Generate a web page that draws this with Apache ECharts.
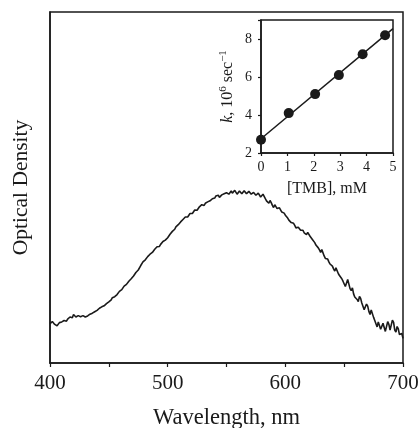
<!DOCTYPE html>
<html>
<head>
<meta charset="utf-8">
<script src="https://cdn.jsdelivr.net/npm/echarts@6/dist/echarts.min.js"></script>
<style>
  html, body { margin: 0; padding: 0; background: #fff; }
  #chart { width: 419px; height: 428px; }
</style>
</head>
<body>
<div id="chart"></div>
<script>
// spectrum, every 1 nm from 400 to 700
const wlStart = 400, wlStep = 1;
const od = [
  0.112, 0.116, 0.118, 0.113, 0.110, 0.108, 0.106, 0.111, 0.115, 0.113,
  0.117, 0.122, 0.121, 0.117, 0.119, 0.125, 0.128, 0.131, 0.133, 0.129,
  0.138, 0.134, 0.131, 0.136, 0.135, 0.130, 0.132, 0.137, 0.135, 0.132,
  0.131, 0.135, 0.134, 0.138, 0.139, 0.137, 0.142, 0.145, 0.146, 0.149,
  0.150, 0.155, 0.156, 0.154, 0.160, 0.164, 0.163, 0.166, 0.169, 0.173,
  0.174, 0.178, 0.180, 0.186, 0.184, 0.189, 0.193, 0.195, 0.199, 0.204,
  0.207, 0.209, 0.212, 0.219, 0.222, 0.224, 0.228, 0.233, 0.236, 0.240,
  0.243, 0.248, 0.252, 0.258, 0.262, 0.265, 0.270, 0.277, 0.282, 0.288,
  0.292, 0.294, 0.298, 0.303, 0.305, 0.310, 0.313, 0.315, 0.318, 0.324,
  0.327, 0.331, 0.333, 0.332, 0.338, 0.343, 0.346, 0.348, 0.350, 0.355,
  0.357, 0.362, 0.367, 0.370, 0.375, 0.377, 0.381, 0.388, 0.392, 0.394,
  0.398, 0.402, 0.404, 0.409, 0.411, 0.416, 0.418, 0.416, 0.421, 0.426,
  0.428, 0.426, 0.431, 0.436, 0.437, 0.435, 0.440, 0.445, 0.447, 0.451,
  0.452, 0.449, 0.455, 0.459, 0.459, 0.457, 0.462, 0.467, 0.468, 0.465,
  0.470, 0.476, 0.474, 0.478, 0.472, 0.477, 0.479, 0.483, 0.482, 0.478,
  0.485, 0.488, 0.481, 0.486, 0.490, 0.484, 0.486, 0.492, 0.489, 0.481,
  0.484, 0.490, 0.489, 0.482, 0.483, 0.491, 0.488, 0.482, 0.480, 0.489,
  0.487, 0.481, 0.479, 0.486, 0.484, 0.478, 0.476, 0.484, 0.480, 0.473,
  0.470, 0.481, 0.478, 0.468, 0.462, 0.459, 0.455, 0.463, 0.457, 0.449,
  0.443, 0.451, 0.448, 0.440, 0.436, 0.442, 0.439, 0.430, 0.425, 0.427,
  0.421, 0.417, 0.413, 0.407, 0.402, 0.400, 0.396, 0.398, 0.392, 0.385,
  0.381, 0.387, 0.384, 0.378, 0.375, 0.378, 0.371, 0.368, 0.366, 0.372,
  0.369, 0.361, 0.356, 0.352, 0.349, 0.343, 0.336, 0.339, 0.328, 0.322,
  0.315, 0.323, 0.318, 0.305, 0.298, 0.303, 0.296, 0.288, 0.282, 0.285,
  0.276, 0.268, 0.262, 0.271, 0.266, 0.255, 0.249, 0.246, 0.240, 0.233,
  0.228, 0.218, 0.222, 0.238, 0.234, 0.212, 0.206, 0.214, 0.197, 0.188,
  0.192, 0.181, 0.175, 0.190, 0.184, 0.171, 0.166, 0.152, 0.155, 0.168,
  0.162, 0.147, 0.138, 0.151, 0.146, 0.130, 0.121, 0.112, 0.103, 0.117,
  0.112, 0.096, 0.092, 0.113, 0.108, 0.090, 0.095, 0.118, 0.110, 0.094,
  0.098, 0.122, 0.116, 0.094, 0.088, 0.104, 0.097, 0.081, 0.076, 0.084,
  0.070
];

// inset: rate constant vs [TMB]
const tmb = [0, 1.05, 2.05, 2.95, 3.85, 4.7];
const kVals = [2.7, 4.1, 5.1, 6.1, 7.2, 8.2];
const fitX = [0, 5];
const fitY = [2.75, 8.55];

const FONT = 'Liberation Serif';
const INK = '#1a1a1a';

let spectrum = [];
for (let i = 0; i < od.length; i++) {
    spectrum.push([wlStart + i * wlStep, od[i]]);
}
let points = tmb.map((x, i) => [x, kVals[i]]);
let fit = fitX.map((x, i) => [x, fitY[i]]);

let myChart = echarts.init(document.getElementById('chart'), null, { renderer: 'canvas' });

let option = {
    backgroundColor: '#fff',
    animation: false,
    grid: [
        { left: 50, top: 12, width: 353, height: 351, show: true, borderColor: INK, borderWidth: 1.5, outerBoundsMode: 'none' },
        { left: 261, top: 20, width: 132, height: 133, show: true, borderColor: INK, borderWidth: 1.5, backgroundColor: '#fff', outerBoundsMode: 'none' }
    ],
    xAxis: [
        {
            gridIndex: 0, type: 'value', min: 400, max: 700, interval: 50,
            axisLine: { lineStyle: { color: INK, width: 1.5 } },
            axisTick: { length: 4, lineStyle: { color: INK, width: 1.2 } },
            axisLabel: {
                fontFamily: FONT, fontSize: 21, color: INK, margin: 10,
                formatter: v => (v % 100 === 0 ? String(v) : '')
            },
            splitLine: { show: false },
            name: 'Wavelength, nm', nameLocation: 'middle', nameGap: 44,
            nameTextStyle: { fontFamily: FONT, fontSize: 22.5, color: INK }
        },
        {
            gridIndex: 1, type: 'value', min: 0, max: 5, interval: 1,
            axisLine: { lineStyle: { color: INK, width: 1.5 } },
            axisTick: { length: 3, lineStyle: { color: INK, width: 1.2 } },
            axisLabel: { fontFamily: FONT, fontSize: 14, color: INK, margin: 7 },
            splitLine: { show: false },
            name: '[TMB], mM', nameLocation: 'middle', nameGap: 28,
            nameTextStyle: { fontFamily: FONT, fontSize: 16, color: INK }
        }
    ],
    yAxis: [
        {
            gridIndex: 0, type: 'value', min: 0, max: 1,
            axisLine: { show: true, lineStyle: { color: INK, width: 1.5 } },
            axisTick: { show: false },
            axisLabel: { show: false },
            splitLine: { show: false },
            name: 'Optical Density', nameLocation: 'middle', nameGap: 18,
            nameTextStyle: { fontFamily: FONT, fontSize: 21.5, color: INK }
        },
        {
            gridIndex: 1, type: 'value', min: 2, max: 9, interval: 2,
            axisLine: { show: true, lineStyle: { color: INK, width: 1.5 } },
            axisTick: { length: 3, lineStyle: { color: INK, width: 1.2 } },
            axisLabel: {
                fontFamily: FONT, fontSize: 14, color: INK, margin: 9,
                formatter: v => (v % 2 === 0 ? String(v) : '')
            },
            splitLine: { show: false },
            name: '{i|k}{n|, 10}{s|6}{n| sec}{s|−1}', nameLocation: 'middle', nameGap: 24,
            nameTextStyle: {
                fontFamily: FONT, fontSize: 16, color: INK,
                rich: {
                    i: { fontFamily: FONT, fontSize: 16, fontStyle: 'italic', color: INK },
                    n: { fontFamily: FONT, fontSize: 16, color: INK },
                    s: { fontFamily: FONT, fontSize: 11, color: INK, padding: [0, 0, 8, 0] }
                }
            }
        }
    ],
    series: [
        {
            type: 'line', xAxisIndex: 0, yAxisIndex: 0, data: spectrum,
            showSymbol: false, lineStyle: { color: INK, width: 1.6 }
        },
        {
            type: 'line', xAxisIndex: 1, yAxisIndex: 1, data: fit,
            showSymbol: false, lineStyle: { color: INK, width: 1.5 }, z: 3
        },
        {
            type: 'scatter', xAxisIndex: 1, yAxisIndex: 1, data: points,
            symbol: 'circle', symbolSize: 10, itemStyle: { color: INK, opacity: 1 }, z: 4
        }
    ]
};
myChart.setOption(option);
</script>
</body>
</html>
